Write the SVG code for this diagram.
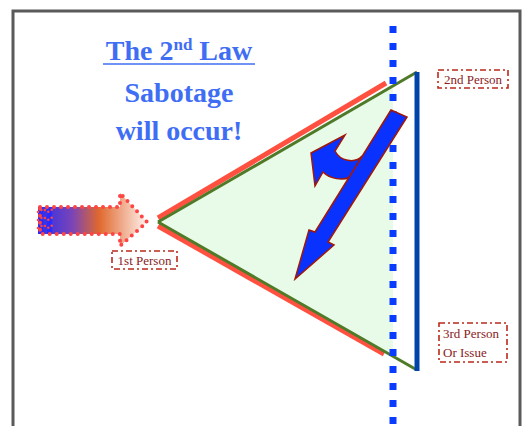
<svg xmlns="http://www.w3.org/2000/svg" width="526" height="426" viewBox="0 0 526 426">
<defs>
<style>
.title{font-family:"Liberation Serif","Times New Roman",serif;font-weight:bold;font-size:28px;fill:#3f6ef5;text-anchor:middle}
.lbl{font-family:"Liberation Serif","Times New Roman",serif;font-size:13px;fill:#882222}
.lbox{fill:none;stroke:#bb2a1a;stroke-width:1.6;stroke-dasharray:6 3 2 3}
.blue{fill:#0a32ff;stroke:#a01808;stroke-width:1.5;stroke-linejoin:miter}
</style>
<linearGradient id="grad" x1="40" y1="0" x2="147" y2="0" gradientUnits="userSpaceOnUse">
<stop offset="0" stop-color="#3030e8"/>
<stop offset="0.3" stop-color="#7a44b8"/>
<stop offset="0.55" stop-color="#e0682e"/>
<stop offset="1" stop-color="#fff2ee"/>
</linearGradient>
</defs>
<rect x="0" y="0" width="526" height="426" fill="#ffffff"/>
<rect x="13" y="11" width="507" height="440" fill="#ffffff" stroke="#5a5a5a" stroke-width="3"/>

<g id="title">
<text class="title" x="179" y="60">The 2<tspan font-size="17" dy="-10">nd</tspan><tspan dy="10"> Law</tspan></text>
<line x1="103" y1="64" x2="255" y2="64" stroke="#3f6ef5" stroke-width="1.6"/>
<text class="title" x="179" y="102">Sabotage</text>
<text class="title" x="179" y="140">will occur!</text>
</g>

<g id="triangle">
<polygon points="158,222 393,86 393,356" fill="#e8fbe8"/>
<line x1="158" y1="218" x2="386" y2="83" stroke="#ff5040" stroke-width="5"/>
<line x1="158" y1="226" x2="384" y2="354" stroke="#ff5040" stroke-width="5"/>
<line x1="158" y1="222" x2="417" y2="72" stroke="#4f7a28" stroke-width="3"/>
<line x1="158" y1="222" x2="417" y2="370" stroke="#4f7a28" stroke-width="3"/>
</g>

<g id="barrier">
<line x1="417" y1="72" x2="417" y2="371" stroke="#0044aa" stroke-width="5"/>
</g>

<g id="dotted">
<line x1="393" y1="26" x2="393" y2="426" stroke="#0a3cff" stroke-width="7" stroke-dasharray="7 10"/>
</g>

<g id="arrows">
<path class="blue" d="M362,156 C355,164 340,161 335,151 L345,135 L311,153 L315,186 L323,172 C330,179 343,181 350,177 Z"/>
<polygon class="blue" points="391,110 315,232 309,230 295,279 334,245 328,242 407,117"/>
</g>

<g id="input-arrow">
<polygon points="40,207 120,207 120,193 147,222 120,246 120,234 40,234" fill="url(#grad)"/>
<rect x="38" y="207" width="5" height="27" fill="#2a2aff"/>
<rect x="47" y="207" width="5" height="27" fill="#2a2aff"/>
<polyline points="38,212 43,209 48,212 53,209" fill="none" stroke="#ff4444" stroke-width="2.5" stroke-dasharray="0 4" stroke-linecap="round"/>
<polyline points="38,220 43,217 48,220 53,217" fill="none" stroke="#ff4444" stroke-width="2.5" stroke-dasharray="0 4" stroke-linecap="round"/>
<polyline points="38,228 43,225 48,228 53,225" fill="none" stroke="#ff4444" stroke-width="2.5" stroke-dasharray="0 4" stroke-linecap="round"/>
<polygon points="40,207 120,207 120,193 147,222 120,246 120,234 40,234" fill="none" stroke="#ff4444" stroke-width="4" stroke-dasharray="0 7" stroke-linecap="round"/>
</g>

<g id="p1">
<rect class="lbox" x="112" y="251" width="65" height="18"/>
<text class="lbl" x="144.5" y="265" text-anchor="middle">1st Person</text>
</g>
<g id="p2">
<rect class="lbox" x="438" y="70" width="70" height="18"/>
<text class="lbl" x="473" y="84" text-anchor="middle">2nd Person</text>
</g>
<g id="p3">
<rect class="lbox" x="439" y="323" width="68" height="39"/>
<text class="lbl" x="443" y="338">3rd Person</text>
<text class="lbl" x="443" y="357">Or Issue</text>
</g>
</svg>
